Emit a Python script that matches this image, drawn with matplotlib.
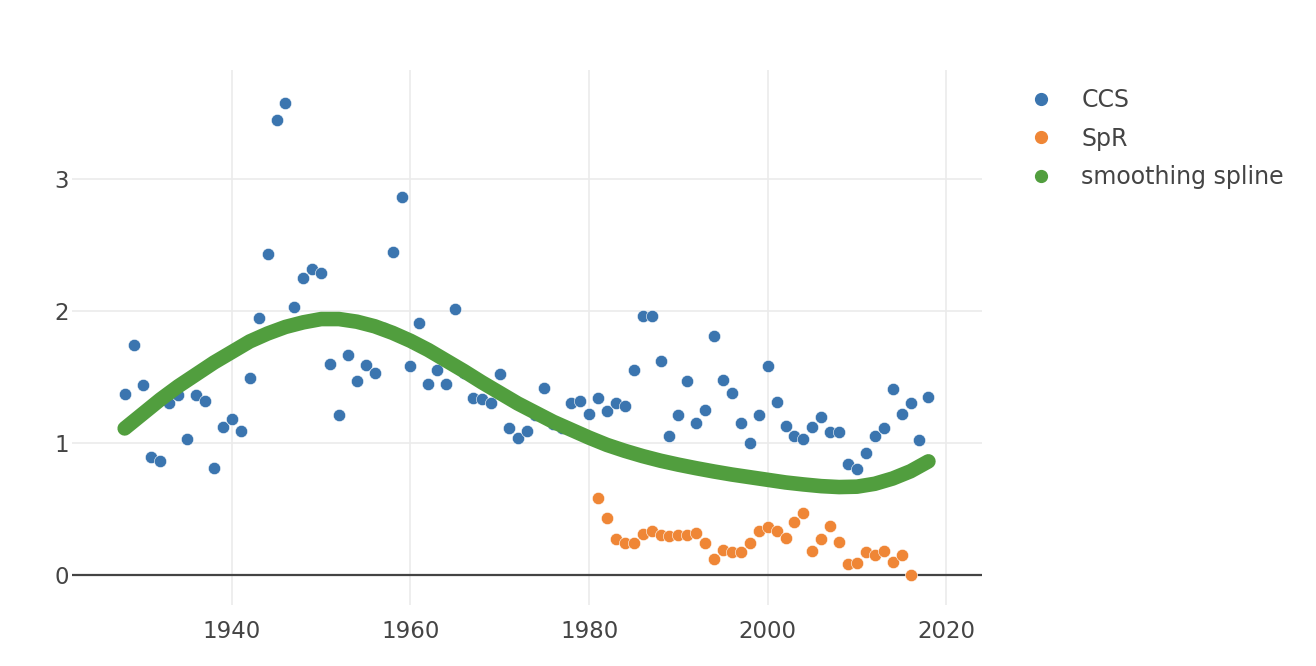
import numpy as np
import matplotlib
matplotlib.use("Agg")
from matplotlib import pyplot as plt
from matplotlib.lines import Line2D

# yearly CCS values, 1928-2018
ccs_years = list(range(1928, 2019))
ccs_values = [
    1.37, 1.74, 1.44, 0.89, 0.86, 1.30, 1.36, 1.03, 1.36, 1.32,
    0.81, 1.12, 1.18, 1.09, 1.49, 1.95, 2.43, 3.45, 3.58, 2.03,
    2.25, 2.32, 2.29, 1.60, 1.21, 1.67, 1.47, 1.59, 1.53, 1.87,
    2.45, 2.87, 1.58, 1.91, 1.45, 1.55, 1.45, 2.02, 1.53, 1.34,
    1.33, 1.30, 1.52, 1.11, 1.04, 1.09, 1.21, 1.42, 1.14, 1.11,
    1.30, 1.32, 1.22, 1.34, 1.24, 1.30, 1.28, 1.55, 1.96, 1.96,
    1.62, 1.05, 1.21, 1.47, 1.15, 1.25, 1.81, 1.48, 1.38, 1.15,
    1.00, 1.21, 1.58, 1.31, 1.13, 1.05, 1.03, 1.12, 1.20, 1.08,
    1.08, 0.84, 0.80, 0.92, 1.05, 1.11, 1.41, 1.22, 1.30, 1.02,
    1.35,
]

# yearly SpR values, 1981-2016
spr_years = list(range(1981, 2017))
spr_values = [
    0.58, 0.43, 0.27, 0.24, 0.24, 0.31, 0.33, 0.30, 0.29, 0.30,
    0.30, 0.32, 0.24, 0.12, 0.19, 0.17, 0.17, 0.24, 0.33, 0.36,
    0.33, 0.28, 0.40, 0.47, 0.18, 0.27, 0.37, 0.25, 0.08, 0.09,
    0.17, 0.15, 0.18, 0.10, 0.15, 0.00,
]

# smoothing spline, read every two years
spline_years = list(range(1928, 2019, 2))
spline_values = [
    1.11, 1.22, 1.33, 1.43, 1.52, 1.61, 1.69, 1.77, 1.83, 1.88,
    1.915, 1.94, 1.94, 1.92, 1.885, 1.835, 1.775, 1.705, 1.625, 1.545,
    1.46, 1.38, 1.30, 1.23, 1.16, 1.10, 1.04, 0.985, 0.94, 0.90,
    0.865, 0.835, 0.808, 0.783, 0.76, 0.74, 0.72, 0.70, 0.685, 0.672,
    0.665, 0.668, 0.69, 0.73, 0.785, 0.86,
]

blue = '#3b75af'
orange = '#ef8636'
green = '#519e3e'
text_col = '#444444'

plt.rcParams['font.family'] = ['DejaVu Sans']

fig = plt.figure(figsize=(13.16, 6.66), dpi=100)
ax = fig.add_axes([72 / 1316, 61 / 666, 910 / 1316, 535 / 666])

ax.scatter(ccs_years, ccs_values, s=78, color=blue, edgecolors='white',
           linewidths=0.4, zorder=3)
ax.scatter(spr_years, spr_values, s=78, color=orange, edgecolors='white',
           linewidths=0.4, zorder=3)
ax.plot(spline_years, spline_values, color=green, lw=10.5,
        solid_capstyle='round', solid_joinstyle='round', zorder=4)

ax.set_xlim(1922.1, 2024.0)
ax.set_ylim(-0.23, 3.83)
ax.set_xticks([1940, 1960, 1980, 2000, 2020])
ax.set_yticks([0, 1, 2, 3])
ax.grid(True, color='#ebebeb', lw=1.2)
ax.set_axisbelow(True)
ax.axhline(0, color=text_col, lw=1.6, zorder=2)
for s in ax.spines.values():
    s.set_visible(False)
ax.tick_params(length=0, labelsize=16.5, labelcolor=text_col)
ax.tick_params(axis='x', pad=11)
ax.tick_params(axis='y', pad=2)

handles = [
    Line2D([], [], ls='none', marker='o', ms=8.5, color=blue),
    Line2D([], [], ls='none', marker='o', ms=8.5, color=orange),
    Line2D([], [], ls='none', marker='o', ms=8.5, color=green),
]
leg = fig.legend(handles, ['CCS', 'SpR', 'smoothing spline'],
                 loc='upper left', bbox_to_anchor=(1008 / 1316, 1 - 67 / 666),
                 frameon=False, fontsize=17, handletextpad=1.2,
                 labelspacing=0.61, handlelength=1.0, borderpad=0.4)
for t in leg.get_texts():
    t.set_color(text_col)

fig.savefig('out.png', dpi=100)
